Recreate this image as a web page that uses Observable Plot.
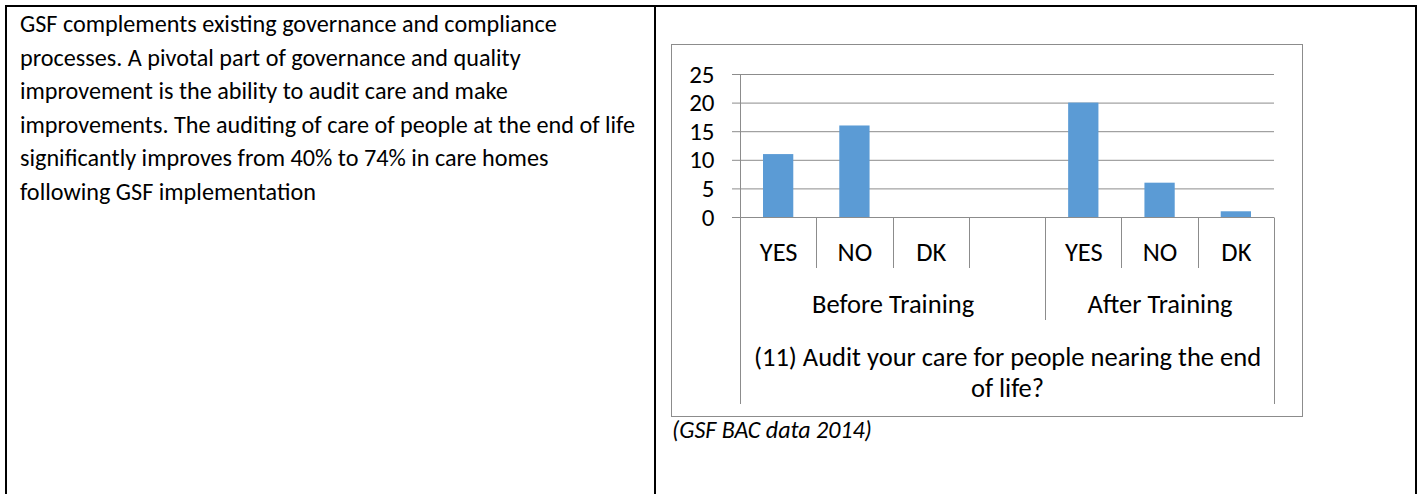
<!DOCTYPE html>
<html>
<head>
<meta charset="utf-8">
<script src="https://cdn.jsdelivr.net/npm/d3@7"></script>
<script src="https://cdn.jsdelivr.net/npm/@observablehq/plot@0.6"></script>
<style>
  html, body { margin: 0; padding: 0; background: #fff; }
  body { width: 1419px; height: 494px; position: relative; overflow: hidden; font-family: Carlito, Lato, sans-serif; color: #000; }
  .rule { position: absolute; background: #000; }
  #text { position: absolute; left: 20px; top: 7px; font-size: 24.2px; line-height: 33.5px; white-space: nowrap; }
  #box { position: absolute; left: 671px; top: 44px; width: 632px; height: 373px; border: 1px solid #8c8c8c; box-sizing: border-box; }
  #chart { position: absolute; left: 671px; top: 44px; }
  #caption { position: absolute; left: 672px; top: 413px; font-size: 24px; line-height: 33px; font-style: italic; white-space: nowrap; }
</style>
</head>
<body>
<div class="rule" style="left:5px; top:5px; width:1412px; height:2px;"></div>
<div class="rule" style="left:5px; top:5px; width:2px; height:489px;"></div>
<div class="rule" style="left:654px; top:5px; width:2px; height:489px;"></div>
<div class="rule" style="left:1415px; top:5px; width:2px; height:489px;"></div>
<div id="text"></div>
<div id="box"></div>
<div id="chart"></div>
<div id="caption"></div>
<script>
// ---- data ----
const bodyLines = [
  "GSF complements existing governance and compliance",
  "processes. A pivotal part of governance and quality",
  "improvement is the ability to audit care and make",
  "improvements. The auditing of care of people at the end of life",
  "significantly improves from 40% to 74% in care homes",
  "following GSF implementation"
];
const captionText = "(GSF BAC data 2014)";
const slotGroups = ["Before Training", "Before Training", "Before Training", "Before Training", "After Training", "After Training", "After Training"];
const slotLabels = ["YES", "NO", "DK", "", "YES", "NO", "DK"];
const counts = [11, 16, 0, null, 20, 6, 1];
const groupNames = ["Before Training", "After Training"];
const yTicks = [0, 5, 10, 15, 20, 25];
const question = "(11) Audit your care for people nearing the end\nof life?";

// ---- styles ----
const FONT = "Carlito, Lato, sans-serif";
const BAR = "#5B9BD5";
const GRID = "#8c8c8c";
const LABEL_SIZE = 26.5;
const ROW1 = 51, ROW2 = 103, ROW3 = 187;

// ---- text ----
const textDiv = document.getElementById("text");
bodyLines.forEach(l => { const d = document.createElement("div"); d.textContent = l; textDiv.appendChild(d); });
document.getElementById("caption").textContent = captionText;

// ---- chart ----
const n = slotLabels.length;
const slots = slotLabels.map((label, i) => ({i, label, group: slotGroups[i], value: counts[i]}));
const groups = groupNames.map(g => {
  const idx = slots.filter(s => s.group === g).map(s => s.i);
  return {name: g, center: (d3.min(idx) + d3.max(idx) + 1) / 2};
});

function tableLines(index, scales) {
  const {x, y} = scales;
  const g = d3.create("svg:g").attr("stroke", GRID).attr("stroke-width", 1).attr("fill", "none");
  for (let b = 0; b <= n; b++) {
    const outer = b === 0 || b === n;
    const groupEdge = outer || slotGroups[b] !== slotGroups[b - 1];
    const y0 = y(0);
    const bottom = y0 + (outer ? ROW3 : groupEdge ? ROW2 : ROW1);
    const top = b === 0 ? y(d3.max(yTicks)) : y0;
    g.append("line")
      .attr("x1", Math.round(x(b)) + 0.5).attr("x2", Math.round(x(b)) + 0.5)
      .attr("y1", Math.round(top) + 0.5).attr("y2", bottom);
  }
  return g.node();
}

const chart = Plot.plot({
  width: 632,
  height: 373,
  marginTop: 30,
  marginBottom: 200,
  marginLeft: 69,
  marginRight: 29,
  x: {domain: [0, n], axis: null},
  y: {domain: [0, d3.max(yTicks)], axis: null},
  style: {fontFamily: FONT, color: "#000", background: "transparent", overflow: "visible"},
  marks: [
    Plot.ruleY(yTicks, {y: d => d, stroke: GRID, strokeWidth: 1, insetLeft: -8}),
    Plot.rect(slots.filter(d => d.value != null), {x1: "i", x2: d => d.i + 1, y1: 0, y2: "value", insetLeft: 23, insetRight: 23, fill: BAR}),
    tableLines,
    Plot.text(yTicks, {x: 0, y: d => d, text: d => String(d), textAnchor: "end", dx: -26, fontSize: 25, fill: "#000"}),
    Plot.text(slots, {x: d => d.i + 0.5, y: 0, text: "label", dy: 35, fontSize: LABEL_SIZE, fill: "#000"}),
    Plot.text(groups, {x: "center", y: 0, text: "name", dy: 87, fontSize: LABEL_SIZE, fill: "#000"}),
    Plot.text([question], {x: n / 2, y: 0, text: d => d, dy: 154.5, fontSize: LABEL_SIZE, lineHeight: 1.17, fill: "#000"})
  ]
});
document.getElementById("chart").appendChild(chart);
</script>
</body>
</html>
